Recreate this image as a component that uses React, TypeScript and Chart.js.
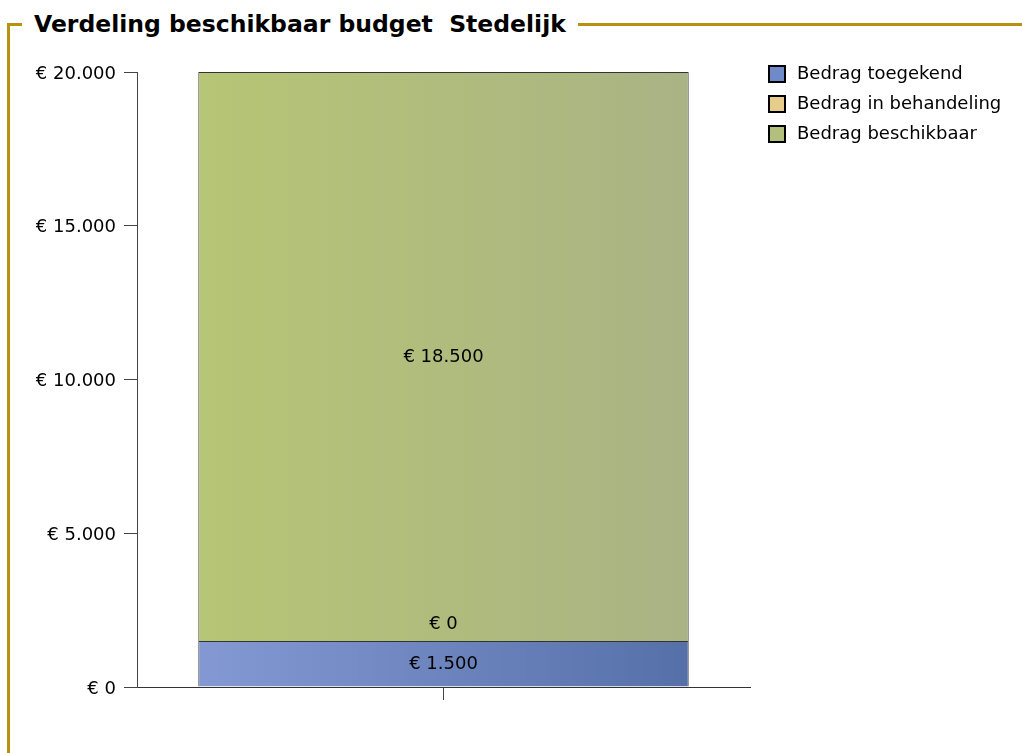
import React, { useEffect, useRef } from "react";
import { Chart, registerables } from "chart.js";

Chart.register(...registerables);

const titleText = "Verdeling beschikbaar budget  Stedelijk";
const categories = [""];
const seriesLabels = ["Bedrag toegekend", "Bedrag in behandeling", "Bedrag beschikbaar"];
const toegekend = [1500];
const inBehandeling = [0];
const beschikbaar = [18500];
const yMin = 0;
const yMax = 20000;
const yStep = 5000;

const FONT = '"DejaVu Sans", sans-serif';
const legendColors = ["#6F8AC8", "#E6CD8B", "#B3C07B"];
const gradStops: [string, string][] = [
  ["#8499D4", "#5570A8"],
  ["#EFD9A0", "#D9BE78"],
  ["#B7C575", "#A9B385"],
];

function euro(v: number): string {
  const s = Math.round(v).toString().replace(/\B(?=(\d{3})+(?!\d))/g, ".");
  return "€ " + s;
}

function makeBg(i: number) {
  return (ctx: any) => {
    const chart = ctx.chart;
    const area = chart.chartArea;
    if (!area) return legendColors[i];
    const w = area.right - area.left;
    const g = chart.ctx.createLinearGradient(area.left + w * 0.1, 0, area.left + w * 0.9, 0);
    g.addColorStop(0, gradStops[i][0]);
    g.addColorStop(1, gradStops[i][1]);
    return g;
  };
}

const labelPlugin = {
  id: "valueLabels",
  afterDatasetsDraw(chart: any) {
    const c = chart.ctx;
    c.save();
    c.font = "18px " + FONT;
    c.fillStyle = "#000";
    c.textAlign = "center";
    c.textBaseline = "middle";
    chart.data.datasets.forEach((ds: any, i: number) => {
      const meta = chart.getDatasetMeta(i);
      meta.data.forEach((bar: any, j: number) => {
        const v = ds.data[j];
        let y = (bar.y + bar.base) / 2;
        if (v === 0) y = bar.y - 18;
        c.fillText(euro(v), bar.x, y + 1);
      });
    });
    c.restore();
  },
};

const legendPlugin = {
  id: "customLegend",
  afterDraw(chart: any) {
    const c = chart.ctx;
    c.save();
    c.font = "18px " + FONT;
    c.textBaseline = "middle";
    c.textAlign = "left";
    chart.data.datasets.forEach((ds: any, i: number) => {
      const cy = 74 + i * 30;
      c.fillStyle = legendColors[i];
      c.fillRect(769, cy - 8, 16, 16);
      c.lineWidth = 2;
      c.strokeStyle = "#000";
      c.strokeRect(769, cy - 8, 16, 16);
      c.fillStyle = "#000";
      c.fillText(ds.label, 797, cy);
    });
    c.restore();
  },
};

export default function App() {
  const ref = useRef<HTMLCanvasElement | null>(null);
  useEffect(() => {
    if (!ref.current) return;
    const series = [toegekend, inBehandeling, beschikbaar];
    const chart = new Chart(ref.current, {
      type: "bar",
      data: {
        labels: categories,
        datasets: series.map((d, i) => ({
          label: seriesLabels[i],
          data: d,
          backgroundColor: makeBg(i),
          borderColor: "#333",
          borderWidth: 1,
          barPercentage: 0.8,
          categoryPercentage: 1,
        })),
      },
      options: {
        animation: false,
        responsive: false,
        layout: { padding: { left: 0, top: 72, right: 272, bottom: 0 } },
        plugins: { legend: { display: false }, tooltip: { enabled: false } },
        scales: {
          x: {
            stacked: true,
            afterFit: (s: any) => {
              s.height = 66;
            },
            grid: { offset: false, drawOnChartArea: false, drawTicks: true, tickLength: 13, color: "#444" },
            border: { display: true, color: "#333", width: 1 },
            ticks: { display: false },
          },
          y: {
            stacked: true,
            min: yMin,
            max: yMax,
            afterFit: (s: any) => {
              s.width = 137;
            },
            grid: { drawOnChartArea: false, drawTicks: true, tickLength: 13, color: "#444" },
            border: { display: true, color: "#444", width: 1 },
            ticks: {
              stepSize: yStep,
              padding: 8,
              labelOffset: 2,
              color: "#000",
              font: { family: FONT, size: 18 },
              callback: (v: any) => euro(Number(v)),
            },
          },
        },
      },
      plugins: [labelPlugin, legendPlugin],
    });
    return () => chart.destroy();
  }, []);

  return (
    <div style={{ position: "fixed", left: 0, top: 0, width: 1022, height: 753, background: "#fff", overflow: "hidden" }}>
      <div style={{ position: "absolute", left: 7, top: 23, width: 3, height: 740, background: "#B8920C" }} />
      <div style={{ position: "absolute", left: 7, top: 23, width: 1015, height: 3, background: "#B8920C" }} />
      <div
        style={{
          position: "absolute",
          left: 22,
          top: 10,
          padding: "0 12px",
          background: "#fff",
          fontFamily: FONT,
          fontWeight: "bold",
          fontSize: 23.5,
          lineHeight: "28px",
          color: "#000",
          whiteSpace: "pre",
        }}
      >
        {titleText}
      </div>
      <canvas ref={ref} width={1022} height={753} style={{ position: "absolute", left: 0, top: 0, width: 1022, height: 753 }} />
    </div>
  );
}
